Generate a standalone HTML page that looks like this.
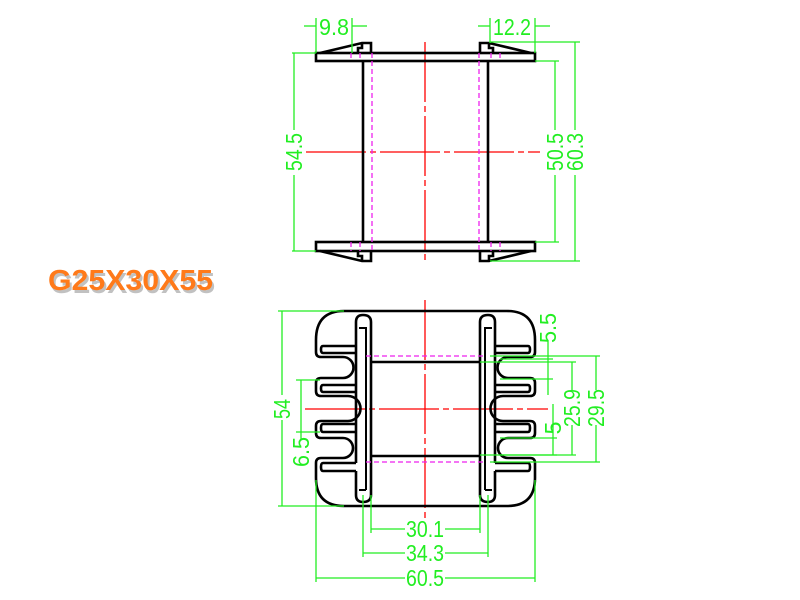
<!DOCTYPE html>
<html><head><meta charset="utf-8"><style>
html,body{margin:0;padding:0;background:#fff;}
svg{display:block;}
.t{font-family:"Liberation Sans",sans-serif;font-size:23px;fill:#22ee22;}
</style></head><body>
<svg width="800" height="600" viewBox="0 0 800 600" xmlns="http://www.w3.org/2000/svg">
<rect width="800" height="600" fill="#fff"/>
<!-- Title -->
<text x="48" y="290" font-family="Liberation Sans,sans-serif" font-weight="bold" font-size="29" fill="#999" textLength="165" lengthAdjust="spacingAndGlyphs" opacity="0.6" transform="translate(2,3)">G25X30X55</text>
<text x="48" y="290" font-family="Liberation Sans,sans-serif" font-weight="bold" font-size="29" fill="#ff7a1a" textLength="165" lengthAdjust="spacingAndGlyphs">G25X30X55</text>

<!-- TOP VIEW -->
<g stroke="#ff0000" stroke-width="1.3" fill="none">
<line x1="306" y1="152" x2="540" y2="152" stroke-dasharray="60,4,6,4"/>
<line x1="425" y1="42" x2="425" y2="260" stroke-dasharray="60,4,6,4"/>
</g>
<g stroke="#000" stroke-width="2.6" fill="none">
<rect x="316" y="53" width="219" height="8"/>
<rect x="316" y="242" width="219" height="9"/>
<line x1="363" y1="61" x2="363" y2="242"/>
<line x1="488" y1="61" x2="488" y2="242"/>
<path d="M320 53 L362 43 L371 43 L371 53 M362 43 L362 48 L358 48 L358 53"/>
<path d="M531 53 L489 43 L480 43 L480 53 M489 43 L489 48 L493 48 L493 53"/>
<path d="M320 251 L362 261 L371 261 L371 251 M362 261 L362 256 L358 256 L358 251"/>
<path d="M531 251 L489 261 L480 261 L480 251 M489 261 L489 256 L493 256 L493 251"/>
</g>
<g stroke="#ee22ee" stroke-width="1.3" stroke-dasharray="5,3" fill="none">
<line x1="372" y1="53" x2="372" y2="251"/>
<line x1="479" y1="53" x2="479" y2="251"/>
<line x1="351" y1="53" x2="351" y2="61"/><line x1="360" y1="53" x2="360" y2="61"/>
<line x1="491" y1="53" x2="491" y2="61"/><line x1="500" y1="53" x2="500" y2="61"/>
<line x1="351" y1="242" x2="351" y2="251"/><line x1="360" y1="242" x2="360" y2="251"/>
<line x1="491" y1="242" x2="491" y2="251"/><line x1="500" y1="242" x2="500" y2="251"/>
</g>
<g stroke="#22ee22" stroke-width="1.3" fill="none">
<line x1="316" y1="18" x2="316" y2="53"/><line x1="352" y1="18" x2="352" y2="53"/>
<line x1="304" y1="26" x2="316" y2="26"/><line x1="352" y1="26" x2="367" y2="26"/>
<line x1="490" y1="18" x2="490" y2="43"/><line x1="535" y1="18" x2="535" y2="53"/>
<line x1="478" y1="26" x2="490" y2="26"/><line x1="535" y1="26" x2="550" y2="26"/>
<line x1="292" y1="53" x2="316" y2="53"/><line x1="292" y1="251" x2="316" y2="251"/>
<line x1="294" y1="53" x2="294" y2="130"/><line x1="294" y1="175" x2="294" y2="251"/>
<line x1="535" y1="61" x2="559" y2="61"/><line x1="535" y1="242" x2="559" y2="242"/>
<line x1="555" y1="61" x2="555" y2="130"/><line x1="555" y1="175" x2="555" y2="242"/>
<line x1="490" y1="42" x2="580" y2="42"/><line x1="490" y1="261" x2="580" y2="261"/>
<line x1="575" y1="42" x2="575" y2="130"/><line x1="575" y1="175" x2="575" y2="261"/>
</g>
<text class="t" x="334" y="35" text-anchor="middle" textLength="30" lengthAdjust="spacingAndGlyphs">9.8</text>
<text class="t" x="512" y="35" text-anchor="middle" textLength="38" lengthAdjust="spacingAndGlyphs">12.2</text>
<text class="t" transform="translate(302,152) rotate(-90)" text-anchor="middle" textLength="38" lengthAdjust="spacingAndGlyphs">54.5</text>
<text class="t" transform="translate(563,152) rotate(-90)" text-anchor="middle" textLength="38" lengthAdjust="spacingAndGlyphs">50.5</text>
<text class="t" transform="translate(583,152) rotate(-90)" text-anchor="middle" textLength="38" lengthAdjust="spacingAndGlyphs">60.3</text>

<!-- BOTTOM VIEW -->
<g stroke="#ff0000" stroke-width="1.3" fill="none">
<line x1="305" y1="409" x2="548" y2="409" stroke-dasharray="60,4,6,4"/>
<line x1="425" y1="300" x2="425" y2="518" stroke-dasharray="60,4,6,4"/>
</g>
<g id="half" stroke="#000" stroke-width="2.6" fill="none">
<path d="M344 311 Q316 311 316 340 L316 352 Q316 357 321 357 L343 357 A10.5 10.5 0 0 1 343 378 L321 378 Q316 378 316 383 L316 391 Q316 396 321 396 L348 396 A12.5 12.5 0 0 1 348 421 L321 421 Q316 421 316 426 L316 433 Q316 438 321 438 L343 438 A10 10 0 0 1 343 458 L321 458 Q316 458 316 463 L316 478 Q316 506 344 506"/>
<path d="M356 463 L356 322 Q356 315 363 315 Q371 315 371 322 L371 495 Q371 502 363 502 Q356 502 356 495 L356 471"/>
<path d="M356 346 L323 346 Q321 346 321 349.5 Q321 353 323 353 L356 353"/>
<path d="M356 385 L323 385 Q321 385 321 388.5 Q321 392 323 392 L356 392"/>
<path d="M356 424 L323 424 Q321 424 321 428 Q321 432 323 432 L356 432"/>
<path d="M356 463 L323 463 Q321 463 321 467 Q321 471 323 471 L356 471"/>
<path d="M359 328 L366 328 L366 490 M359 490 L366 490" stroke-width="2"/>
</g>
<use href="#half" transform="translate(851,0) scale(-1,1)"/>
<g stroke="#000" stroke-width="2.6" fill="none">
<line x1="344" y1="311" x2="507" y2="311"/>
<line x1="344" y1="506" x2="507" y2="506"/>
<line x1="371" y1="362" x2="480" y2="362"/>
<line x1="371" y1="456" x2="480" y2="456"/>
</g>
<g stroke="#ee22ee" stroke-width="1.3" stroke-dasharray="5,3" fill="none">
<line x1="366" y1="356" x2="485" y2="356"/>
<line x1="366" y1="462" x2="485" y2="462"/>
</g>
<g stroke="#22ee22" stroke-width="1.3" fill="none">
<line x1="278" y1="311" x2="344" y2="311"/><line x1="278" y1="506" x2="344" y2="506"/>
<line x1="282" y1="311" x2="282" y2="395"/><line x1="282" y1="420" x2="282" y2="506"/>
<line x1="296" y1="380" x2="320" y2="380"/><line x1="296" y1="432" x2="320" y2="432"/>
<line x1="301" y1="380" x2="301" y2="440"/>
<line x1="316" y1="480" x2="316" y2="582"/><line x1="535" y1="480" x2="535" y2="582"/>
<line x1="316" y1="578" x2="405" y2="578"/><line x1="445" y1="578" x2="535" y2="578"/>
<line x1="363" y1="495" x2="363" y2="557"/><line x1="488" y1="495" x2="488" y2="557"/>
<line x1="363" y1="553" x2="405" y2="553"/><line x1="445" y1="553" x2="488" y2="553"/>
<line x1="371" y1="495" x2="371" y2="533"/><line x1="480" y1="495" x2="480" y2="533"/>
<line x1="371" y1="529" x2="405" y2="529"/><line x1="445" y1="529" x2="480" y2="529"/>
<line x1="490" y1="356" x2="600" y2="356"/><line x1="490" y1="462" x2="600" y2="462"/>
<line x1="596" y1="356" x2="596" y2="390"/><line x1="596" y1="425" x2="596" y2="462"/>
<line x1="480" y1="362" x2="576" y2="362"/><line x1="480" y1="455" x2="576" y2="455"/>
<line x1="572" y1="362" x2="572" y2="390"/><line x1="572" y1="425" x2="572" y2="455"/>
<line x1="500" y1="359" x2="553" y2="359"/><line x1="500" y1="379" x2="553" y2="379"/>
<line x1="548" y1="340" x2="548" y2="395"/>
<line x1="500" y1="438" x2="557" y2="438"/><line x1="500" y1="455" x2="557" y2="455"/>
<line x1="553" y1="404" x2="553" y2="455"/>
</g>
<text class="t" x="425" y="537" text-anchor="middle" textLength="38" lengthAdjust="spacingAndGlyphs">30.1</text>
<text class="t" x="425" y="561" text-anchor="middle" textLength="38" lengthAdjust="spacingAndGlyphs">34.3</text>
<text class="t" x="425" y="586" text-anchor="middle" textLength="38" lengthAdjust="spacingAndGlyphs">60.5</text>
<text class="t" transform="translate(290,409) rotate(-90)" text-anchor="middle" textLength="20" lengthAdjust="spacingAndGlyphs">54</text>
<text class="t" transform="translate(309,452) rotate(-90)" text-anchor="middle" textLength="30" lengthAdjust="spacingAndGlyphs">6.5</text>
<text class="t" transform="translate(556,328) rotate(-90)" text-anchor="middle" textLength="30" lengthAdjust="spacingAndGlyphs">5.5</text>
<text class="t" transform="translate(561,428) rotate(-90)" text-anchor="middle">5</text>
<text class="t" transform="translate(580,408) rotate(-90)" text-anchor="middle" textLength="38" lengthAdjust="spacingAndGlyphs">25.9</text>
<text class="t" transform="translate(604,408) rotate(-90)" text-anchor="middle" textLength="38" lengthAdjust="spacingAndGlyphs">29.5</text>
</svg>
</body></html>
